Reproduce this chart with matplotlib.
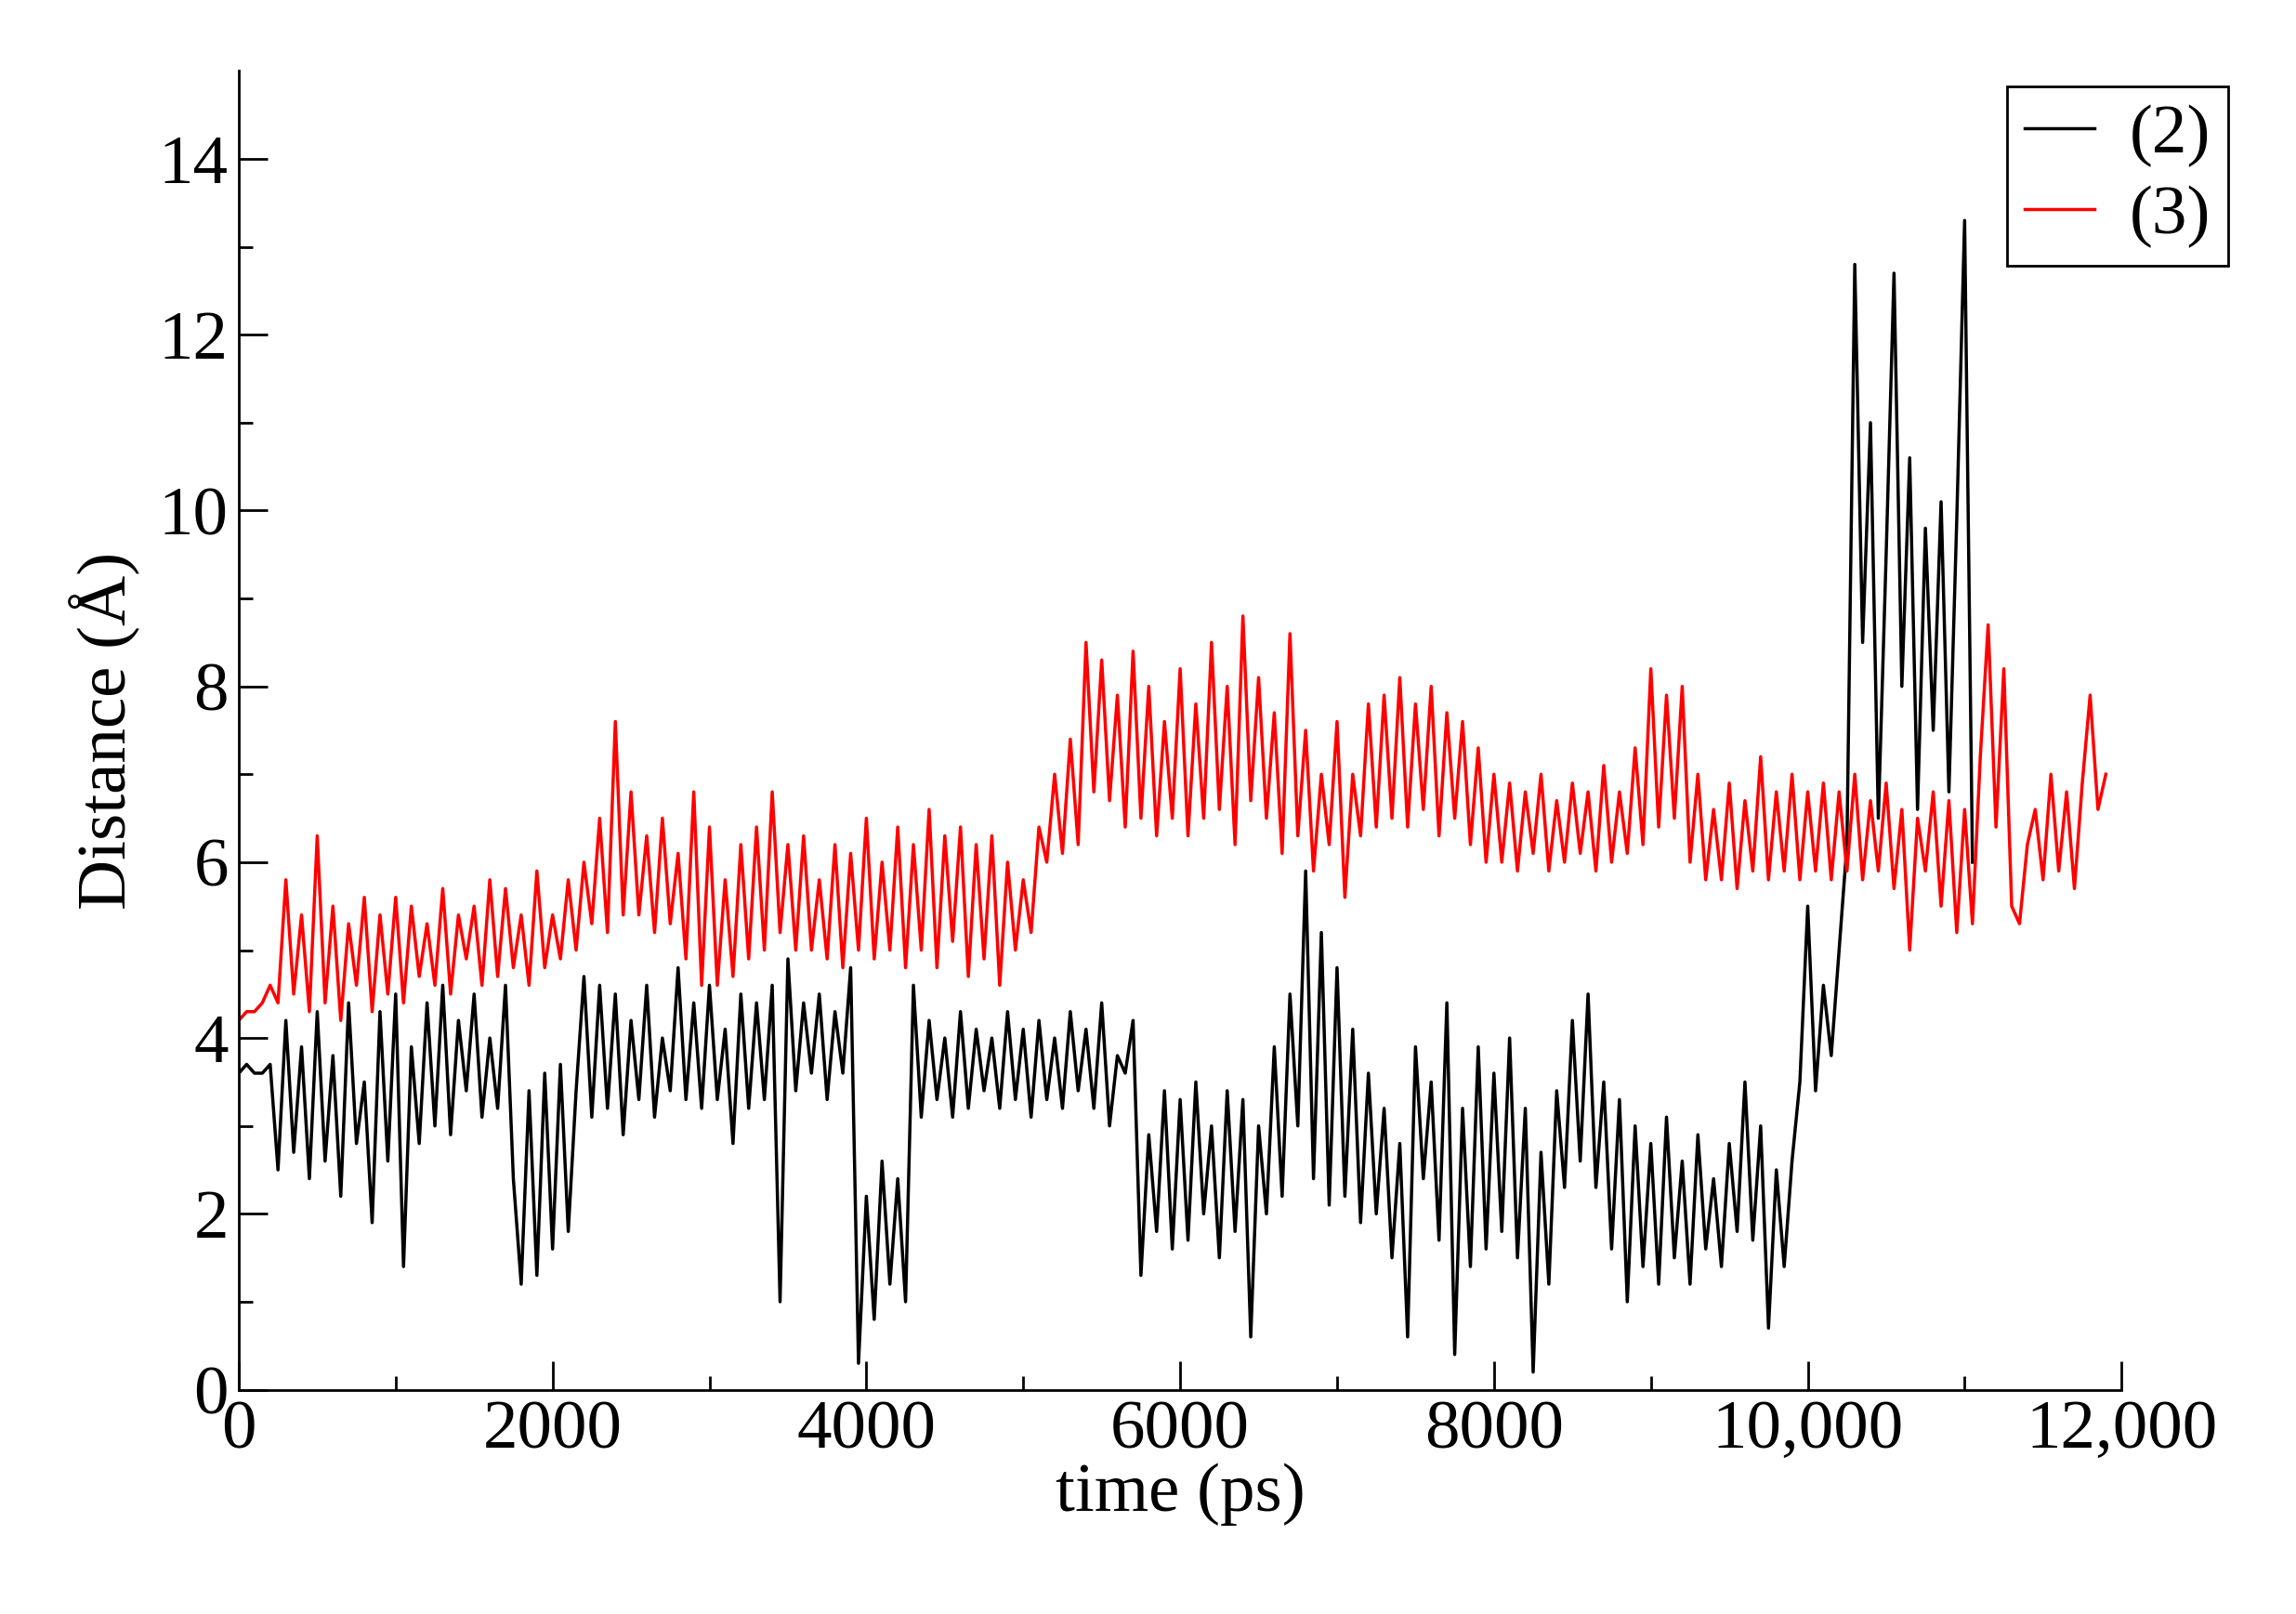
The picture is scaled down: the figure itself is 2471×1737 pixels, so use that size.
import numpy as np
import matplotlib.pyplot as plt

plt.rcParams['font.family'] = ['Liberation Serif', 'DejaVu Serif']

# distance traces, one value every 50 ps
dist_2 = [
    3.6, 3.7, 3.6, 3.6, 3.7, 2.5, 4.2, 2.7, 3.9, 2.4, 4.3, 2.6, 3.8, 2.2, 4.4, 2.8, 3.5, 1.9, 4.3, 2.6,
    4.5, 1.4, 3.9, 2.8, 4.4, 3.0, 4.6, 2.9, 4.2, 3.4, 4.5, 3.1, 4.0, 3.2, 4.6, 2.4, 1.2, 3.4, 1.3, 3.6,
    1.6, 3.7, 1.8, 3.4, 4.7, 3.1, 4.6, 3.2, 4.5, 2.9, 4.2, 3.3, 4.6, 3.1, 4.0, 3.4, 4.8, 3.3, 4.4, 3.2,
    4.6, 3.3, 4.1, 2.8, 4.5, 3.2, 4.4, 3.3, 4.6, 1.0, 4.9, 3.4, 4.4, 3.6, 4.5, 3.3, 4.3, 3.6, 4.8, 0.3,
    2.2, 0.8, 2.6, 1.2, 2.4, 1.0, 4.6, 3.1, 4.2, 3.3, 4.0, 3.1, 4.3, 3.2, 4.1, 3.4, 4.0, 3.2, 4.3, 3.3,
    4.1, 3.1, 4.2, 3.3, 4.0, 3.2, 4.3, 3.4, 4.1, 3.2, 4.4, 3.0, 3.8, 3.6, 4.2, 1.3, 2.9, 1.8, 3.4, 1.6,
    3.3, 1.7, 3.5, 2.0, 3.0, 1.5, 3.4, 1.8, 3.3, 0.6, 3.0, 2.0, 3.9, 2.2, 4.5, 3.0, 5.9, 2.4, 5.2, 2.1,
    4.8, 2.2, 4.1, 1.9, 3.6, 2.0, 3.2, 1.5, 2.8, 0.6, 3.9, 2.4, 3.5, 1.7, 4.4, 0.4, 3.2, 1.4, 3.9, 1.6,
    3.6, 1.8, 4.0, 1.5, 3.2, 0.2, 2.7, 1.2, 3.4, 2.3, 4.2, 2.6, 4.5, 2.3, 3.5, 1.6, 3.3, 1.0, 3.0, 1.4,
    2.8, 1.2, 3.1, 1.5, 2.6, 1.2, 2.9, 1.6, 2.4, 1.4, 2.8, 1.8, 3.5, 1.7, 3.0, 0.7, 2.5, 1.4, 2.6, 3.5,
    5.5, 3.4, 4.6, 3.8, 5.0, 6.2, 12.8, 8.5, 11.0, 6.5, 9.5, 12.7, 8.0, 10.6, 6.6, 9.8, 7.5, 10.1, 6.8, 9.9,
    13.3, 6.0,
]
dist_3 = [
    4.2, 4.3, 4.3, 4.4, 4.6, 4.4, 5.8, 4.5, 5.4, 4.3, 6.3, 4.4, 5.5, 4.2, 5.3, 4.6, 5.6, 4.3, 5.4, 4.5,
    5.6, 4.4, 5.5, 4.7, 5.3, 4.6, 5.7, 4.5, 5.4, 4.9, 5.5, 4.6, 5.8, 4.7, 5.7, 4.8, 5.4, 4.6, 5.9, 4.8,
    5.4, 4.9, 5.8, 5.0, 6.0, 5.3, 6.5, 5.2, 7.6, 5.4, 6.8, 5.4, 6.3, 5.2, 6.5, 5.3, 6.1, 4.9, 6.8, 4.6,
    6.4, 4.6, 5.8, 4.7, 6.2, 4.9, 6.4, 5.0, 6.8, 5.2, 6.2, 5.0, 6.3, 5.0, 5.8, 4.9, 6.2, 4.8, 6.1, 5.0,
    6.5, 4.9, 6.0, 5.0, 6.4, 4.8, 6.2, 5.0, 6.6, 4.8, 6.3, 5.1, 6.4, 4.7, 6.2, 4.9, 6.3, 4.6, 6.0, 5.0,
    5.8, 5.2, 6.4, 6.0, 7.0, 6.1, 7.4, 6.2, 8.5, 6.8, 8.3, 6.7, 7.9, 6.4, 8.4, 6.5, 8.0, 6.3, 7.6, 6.5,
    8.2, 6.3, 7.8, 6.5, 8.5, 6.6, 8.0, 6.2, 8.8, 6.7, 8.1, 6.5, 7.7, 6.1, 8.6, 6.3, 7.5, 5.9, 7.0, 6.2,
    7.6, 5.6, 7.0, 6.3, 7.8, 6.4, 7.9, 6.5, 8.1, 6.4, 7.8, 6.6, 8.0, 6.3, 7.7, 6.5, 7.6, 6.2, 7.3, 6.0,
    7.0, 6.0, 6.9, 5.9, 6.8, 6.1, 7.0, 5.9, 6.7, 6.0, 6.9, 6.1, 6.8, 5.9, 7.1, 6.0, 6.8, 6.1, 7.3, 6.2,
    8.2, 6.4, 7.9, 6.5, 8.0, 6.0, 7.0, 5.8, 6.6, 5.8, 6.9, 5.7, 6.7, 5.9, 7.2, 5.8, 6.8, 5.9, 7.0, 5.8,
    6.8, 5.9, 6.9, 5.8, 6.8, 5.9, 7.0, 5.8, 6.7, 5.9, 6.9, 5.7, 6.6, 5.0, 6.5, 5.9, 6.8, 5.5, 6.7, 5.2,
    6.6, 5.3, 7.2, 8.7, 6.4, 8.2, 5.5, 5.3, 6.2, 6.6, 5.8, 7.0, 5.9, 6.8, 5.7, 6.9, 7.9, 6.6, 7.0,
]
t2 = np.arange(len(dist_2)) * 50
t3 = np.arange(len(dist_3)) * 50

fig = plt.figure(figsize=(24.71, 17.37), dpi=100)
ax = fig.add_axes([0.104, 0.139, 0.82, 0.817])
ax.plot(t2, dist_2, color='black', lw=2.5, label='(2)')
ax.plot(t3, dist_3, color='red', lw=2.5, label='(3)')

ax.set_xlim(0, 12000)
ax.set_ylim(0, 15)
ax.set_xticks([0, 2000, 4000, 6000, 8000, 10000, 12000])
ax.set_xticklabels(['0', '2000', '4000', '6000', '8000', '10,000', '12,000'])
ax.set_yticks(range(0, 15, 2))
ax.set_xticks(range(1000, 12000, 2000), minor=True)
ax.set_yticks(range(1, 15, 2), minor=True)
ax.tick_params(direction='in', labelsize=54, length=22, width=2, pad=8)
ax.tick_params(which='minor', direction='in', length=11, width=2)
for s in ['top', 'right']:
    ax.spines[s].set_visible(False)
for s in ['left', 'bottom']:
    ax.spines[s].set_linewidth(2)

ax.set_xlabel('time (ps)', fontsize=54, labelpad=0)
ax.set_ylabel('Distance (Å)', fontsize=54, labelpad=14)

leg = ax.legend(loc='upper right', bbox_to_anchor=(1.075, 1.015), fontsize=54,
                fancybox=False, framealpha=1, edgecolor='black',
                handlelength=1.0, handletextpad=0.5, borderpad=0.25, labelspacing=0.25)
leg.get_frame().set_linewidth(2)

fig.savefig('out.png')
